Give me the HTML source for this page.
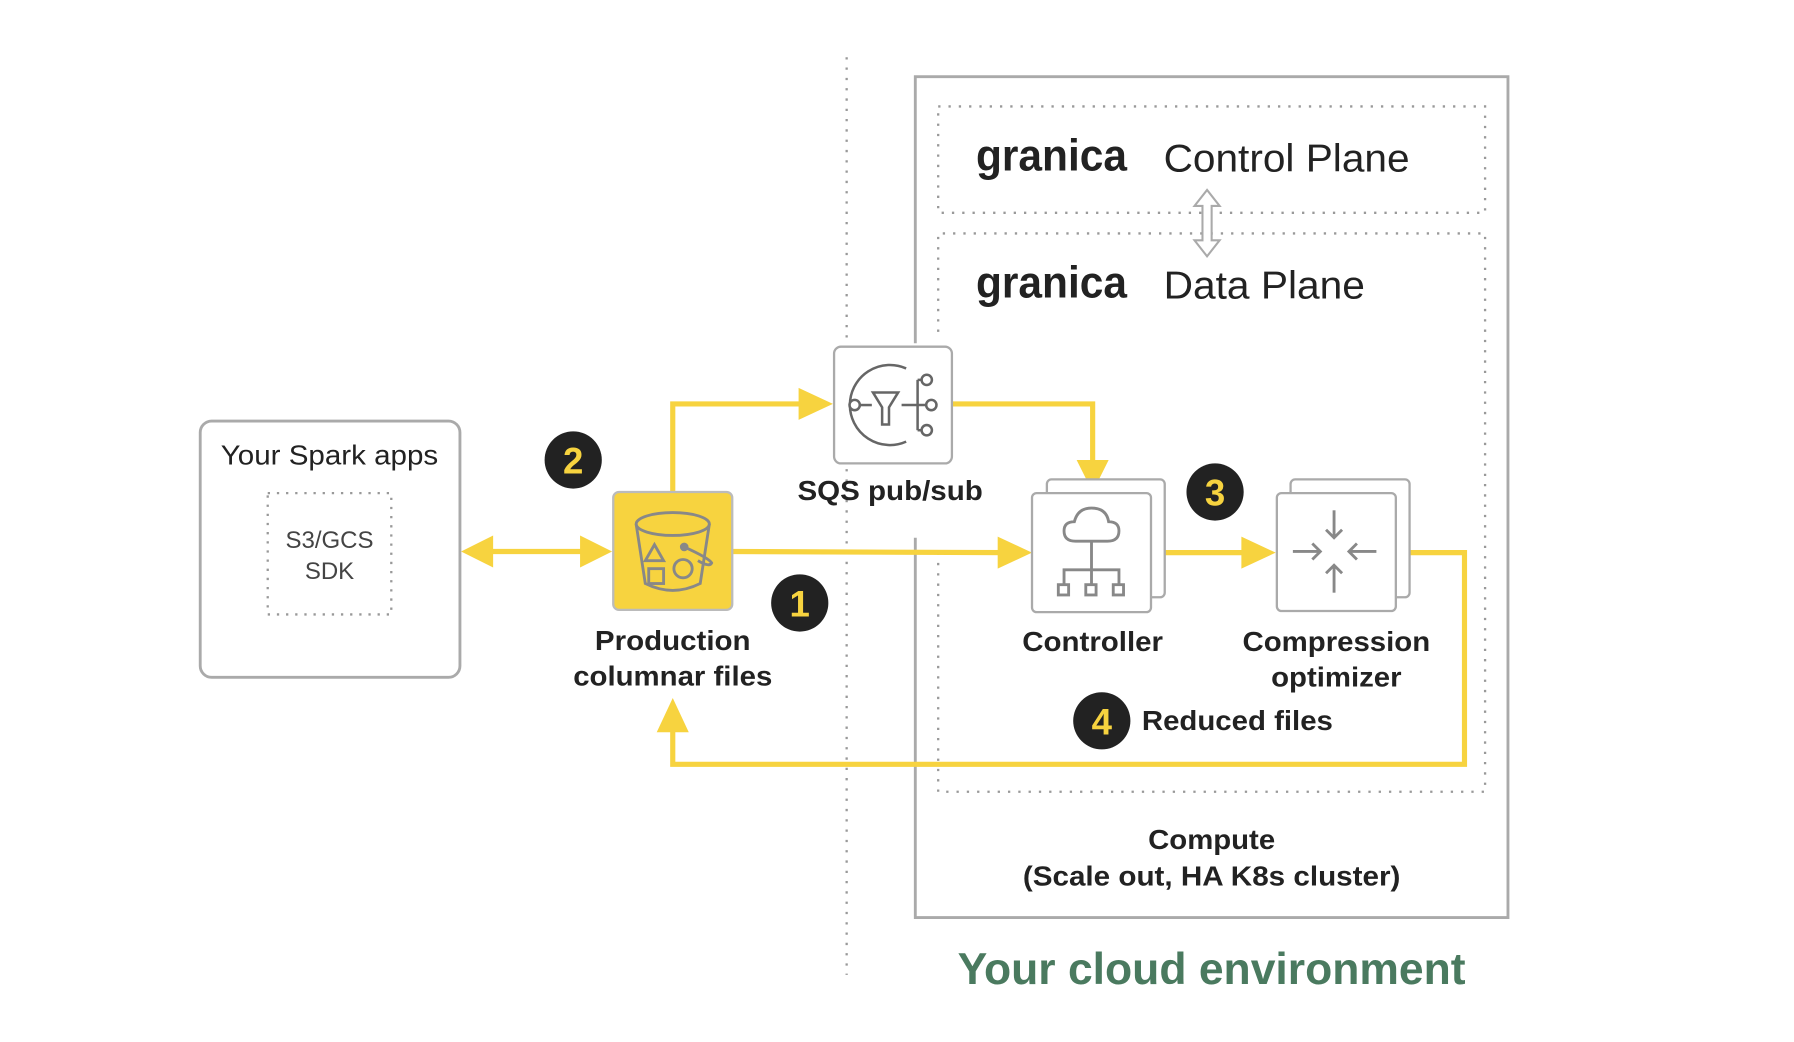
<!DOCTYPE html>
<html><head><meta charset="utf-8"><style>
html,body{margin:0;padding:0;background:#fff;}
svg{display:block;}
text{font-family:"Liberation Sans",Arial,sans-serif;}
</style></head><body>
<svg width="1794" height="1042" viewBox="0 0 1568 910.7" xmlns="http://www.w3.org/2000/svg">
<line x1="740" y1="50" x2="740" y2="852" stroke="#999" stroke-width="2" stroke-dasharray="2,7"/>
<rect x="800" y="67" width="518" height="735" fill="#fff" stroke="none"/>
<polyline points="800,300 800,67 1318,67 1318,802 800,802 800,470" fill="none" stroke="#aaa" stroke-width="2.5"/>
<rect x="820" y="93" width="478" height="93" fill="none" stroke="#999" stroke-width="2" stroke-dasharray="2,7"/>
<polyline points="820,290 820,204 1298,204 1298,692 820,692 820,478" fill="none" stroke="#999" stroke-width="2" stroke-dasharray="2,7"/>
<text x="853" y="149" font-size="39" font-weight="bold" fill="#222" textLength="132" lengthAdjust="spacingAndGlyphs">granica</text>
<text x="1017" y="150" font-size="34" fill="#222" textLength="215" lengthAdjust="spacingAndGlyphs">Control Plane</text>
<text x="853" y="260" font-size="39" font-weight="bold" fill="#222" textLength="132" lengthAdjust="spacingAndGlyphs">granica</text>
<text x="1017" y="261" font-size="34" fill="#222" textLength="176" lengthAdjust="spacingAndGlyphs">Data Plane</text>
<path d="M1055,166 L1066,180 L1059,180 L1059,210 L1066,210 L1055,224 L1044,210 L1051,210 L1051,180 L1044,180 Z" fill="#fff" stroke="#aaa" stroke-width="1.8"/>
<rect x="175" y="368" width="227" height="224" rx="10" fill="#fff" stroke="#aaa" stroke-width="2.5"/>
<text x="288" y="406" font-size="24" fill="#222" text-anchor="middle" textLength="190" lengthAdjust="spacingAndGlyphs">Your Spark apps</text>
<rect x="234" y="431" width="108" height="106" fill="none" stroke="#999" stroke-width="2" stroke-dasharray="2,6"/>
<text x="288" y="479" font-size="21" fill="#444" text-anchor="middle">S3/GCS</text>
<text x="288" y="506" font-size="21" fill="#444" text-anchor="middle">SDK</text>
<g stroke="#F7D33F" stroke-width="4.5" fill="none">
<line x1="425" y1="482" x2="512" y2="482"/>
<polyline points="588,430 588,353 705,353"/>
<polyline points="832,353 955,353 955,408"/>
<line x1="640" y1="482" x2="880" y2="483"/>
<line x1="1006" y1="483" x2="1093" y2="483"/>
<polyline points="1220,483 1280,483 1280,668 588,668 588,632"/>
</g>
<g fill="#F7D33F">
<polygon points="403,482 431,468 431,496"/>
<polygon points="535,482 507,468 507,496"/>
<polygon points="728,353 698,339 698,367"/>
<polygon points="955,430 941,402 969,402"/>
<polygon points="902,483 872,469 872,497"/>
<polygon points="1115,483 1085,469 1085,497"/>
<polygon points="588,610 574,640 602,640"/>
</g>
<rect x="536" y="430" width="104" height="103" rx="5" fill="#F7D33F" stroke="#bbb" stroke-width="2"/>
<g stroke="#888" stroke-width="2.5" fill="none">
<ellipse cx="588" cy="458" rx="32" ry="10"/>
<path d="M556,458 L564,510 Q588,522 612,510 L620,458"/>
<polygon points="572,476 580,490 564,490"/>
<rect x="567" y="497" width="13" height="13"/>
<circle cx="597" cy="497" r="8"/>
<path d="M598,478 Q620,488 622,492 Q620,496 610,490"/>
<circle cx="598" cy="478" r="2.5" fill="#888"/>
</g>
<rect x="729" y="303" width="103" height="102" rx="6" fill="#fff" stroke="#aaa" stroke-width="2"/>
<g stroke="#666" stroke-width="2.2" fill="none">
<path d="M792,322 A35,35 0 1 0 792,386"/>
<circle cx="747" cy="354" r="4.5" fill="#fff"/>
<line x1="752" y1="354" x2="762" y2="354"/>
<path d="M763,343 L785,343 L777,356 L777,371 L771,371 L771,356 Z"/>
<line x1="788" y1="354" x2="810" y2="354"/>
<line x1="802" y1="332" x2="802" y2="376"/>
<line x1="802" y1="332" x2="806" y2="332"/><line x1="802" y1="376" x2="806" y2="376"/>
<circle cx="810" cy="332" r="4.5" fill="#fff"/>
<circle cx="814" cy="354" r="4.5" fill="#fff"/>
<circle cx="810" cy="376" r="4.5" fill="#fff"/>
</g>
<g font-size="24" font-weight="bold" fill="#222" text-anchor="middle">
<text x="778" y="437" textLength="162" lengthAdjust="spacingAndGlyphs">SQS pub/sub</text>
<text x="588" y="568" textLength="136" lengthAdjust="spacingAndGlyphs">Production</text>
<text x="588" y="599" textLength="174" lengthAdjust="spacingAndGlyphs">columnar files</text>
<text x="955" y="569" textLength="123" lengthAdjust="spacingAndGlyphs">Controller</text>
<text x="1168" y="569" textLength="164" lengthAdjust="spacingAndGlyphs">Compression</text>
<text x="1168" y="600" textLength="114" lengthAdjust="spacingAndGlyphs">optimizer</text>
<text x="1059" y="742" textLength="111" lengthAdjust="spacingAndGlyphs">Compute</text>
<text x="1059" y="774" textLength="330" lengthAdjust="spacingAndGlyphs">(Scale out, HA K8s cluster)</text>
</g>
<rect x="915" y="419" width="103" height="103" rx="4" fill="#fff" stroke="#aaa" stroke-width="2"/>
<rect x="902" y="431" width="104" height="104" rx="4" fill="#fff" stroke="#aaa" stroke-width="2"/>
<g stroke="#888" stroke-width="2.5" fill="none">
<path d="M940,473 Q930,473 930,464 Q930,456 939,456 Q942,444 954,444 Q967,444 969,456 Q978,456 978,464 Q978,473 968,473 Z"/>
<line x1="954" y1="473" x2="954" y2="498"/>
<polyline points="930,510 930,498 978,498 978,510"/>
<line x1="954" y1="498" x2="954" y2="510"/>
<rect x="925" y="511" width="9" height="9"/><rect x="949" y="511" width="9" height="9"/><rect x="973" y="511" width="9" height="9"/>
</g>
<rect x="1128" y="419" width="104" height="103" rx="4" fill="#fff" stroke="#aaa" stroke-width="2"/>
<rect x="1116" y="431" width="104" height="103" rx="4" fill="#fff" stroke="#aaa" stroke-width="2"/>
<g stroke="#888" stroke-width="2.5" fill="none">
<line x1="1166" y1="446" x2="1166" y2="470"/><polyline points="1159,463 1166,470 1173,463"/>
<line x1="1166" y1="518" x2="1166" y2="494"/><polyline points="1159,501 1166,494 1173,501"/>
<line x1="1130" y1="482" x2="1154" y2="482"/><polyline points="1147,475 1154,482 1147,489"/>
<line x1="1203" y1="482" x2="1179" y2="482"/><polyline points="1186,475 1179,482 1186,489"/>
</g>
<g font-size="32" font-weight="bold" fill="#F7D33F" text-anchor="middle">
<circle cx="501" cy="402" r="25" fill="#222"/><text x="501" y="414">2</text>
<circle cx="699" cy="527" r="25" fill="#222"/><text x="699" y="539">1</text>
<circle cx="1062" cy="430" r="25" fill="#222"/><text x="1062" y="442">3</text>
<circle cx="963" cy="630" r="25" fill="#222"/><text x="963" y="642">4</text>
</g>
<text x="998" y="638" font-size="24" font-weight="bold" fill="#222" textLength="167" lengthAdjust="spacingAndGlyphs">Reduced files</text>
<text x="1059" y="860" font-size="39" font-weight="bold" fill="#4a7a5f" text-anchor="middle" textLength="444" lengthAdjust="spacingAndGlyphs">Your cloud environment</text>
</svg>
</body></html>
